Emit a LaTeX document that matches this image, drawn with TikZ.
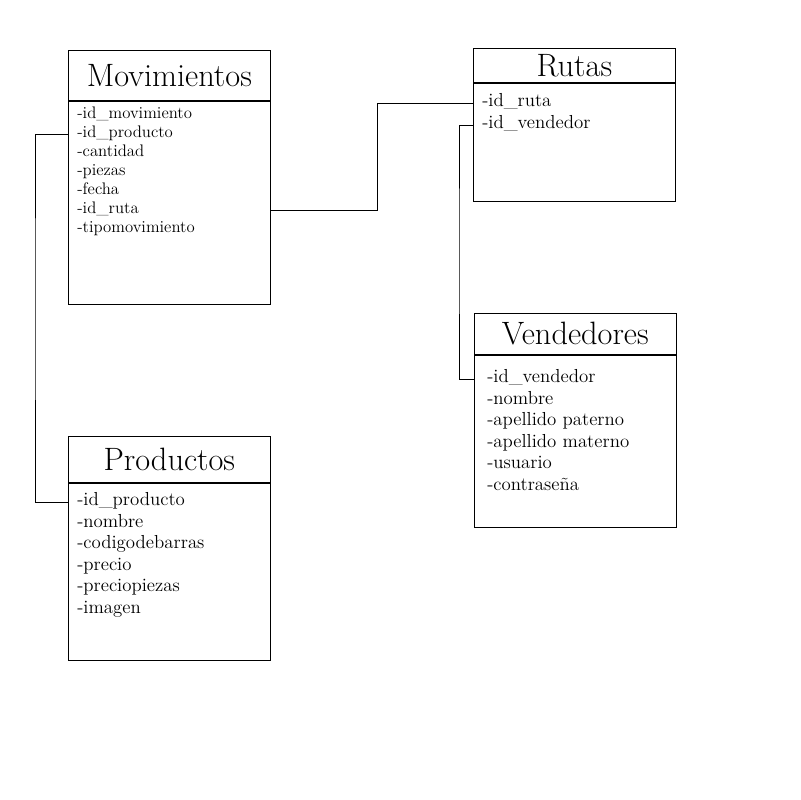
\documentclass[tikz,border=0pt]{standalone}
\usetikzlibrary{positioning}

\begin{document}
\begin{tikzpicture}[x=0.025cm,y=-0.025cm]

\tikzset{head/.style = {shape=rectangle,draw,anchor=north west,inner sep=0pt,
  minimum width=5.05cm,font=\fontsize{23}{27}\selectfont}}
\tikzset{body/.style = {shape=rectangle,draw,inner sep=0pt,minimum width=5.05cm}}
\tikzset{attr/.style = {anchor=west,inner sep=0pt,text height=1.5ex,text depth=.25ex,
  font=\fontsize{13.4}{15}\selectfont}}
\tikzset{attrs/.style = {attr,font=\fontsize{11.9}{14}\selectfont}}
\tikzset{link/.style = {thin}}

\fill[white] (0,0) rectangle (800,800);

% Movimientos
\node[head,minimum height=1.25cm] (mov) at (68,50) {Movimientos};
\node[body,below=0pt of mov,minimum height=5.075cm] (movb) {};
\node[attrs] (m1) at (77,115) {-id\_movimiento};
\node[attrs] (m2) at (77,134) {-id\_producto};
\node[attrs] (m3) at (77,153) {-cantidad};
\node[attrs] (m4) at (77,172) {-piezas};
\node[attrs] (m5) at (77,191) {-fecha};
\node[attrs] (m6) at (77,210) {-id\_ruta};
\node[attrs] (m7) at (77,229) {-tipomovimiento};

% Rutas
\node[head,minimum height=0.85cm] (rut) at (473,48) {Rutas};
\node[body,below=0pt of rut,minimum height=2.95cm] (rutb) {};
\node[attr] (r1) at (482,103) {-id\_ruta};
\node[attr] (r2) at (482,125) {-id\_vendedor};

% Vendedores
\node[head,minimum height=1.025cm] (ven) at (474,313) {Vendedores};
\node[body,below=0pt of ven,minimum height=4.3cm] (venb) {};
\node[attr] (v1) at (487,379) {-id\_vendedor};
\node[attr] (v2) at (487,400.5) {-nombre};
\node[attr] (v3) at (487,422) {-apellido paterno};
\node[attr] (v4) at (487,443.5) {-apellido materno};
\node[attr] (v5) at (487,465) {-usuario};
\node[attr] (v6) at (487,486.5) {-contrase\~na};

% Productos
\node[head,minimum height=1.15cm] (pro) at (68,436) {Productos};
\node[body,below=0pt of pro,minimum height=4.425cm] (prob) {};
\node[attr] (p1) at (77,502) {-id\_producto};
\node[attr] (p2) at (77,523.5) {-nombre};
\node[attr] (p3) at (77,545) {-codigodebarras};
\node[attr] (p4) at (77,566.5) {-precio};
\node[attr] (p5) at (77,588) {-preciopiezas};
\node[attr] (p6) at (77,609.5) {-imagen};

% relaciones
\coordinate (k1) at (377,103);
\coordinate (k2) at (35,300);
\coordinate (k3) at (459,250);

\draw[link] (movb.east |- m6) -| (k1) -- (rutb.west |- r1);
\draw[link] (movb.west |- m2) -| (k2) |- (prob.west |- p1);
\draw[link] (rutb.west |- r2) -| (k3) |- (venb.west |- v1);

\end{tikzpicture}
\end{document}
